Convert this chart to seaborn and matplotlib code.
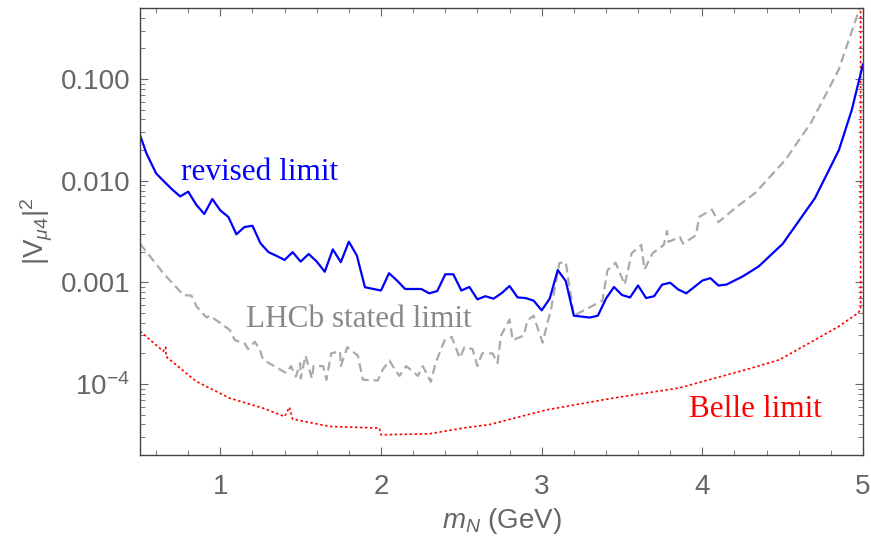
import numpy as np
import pandas as pd
import matplotlib
matplotlib.use("Agg")
import matplotlib.pyplot as plt
import matplotlib.ticker as mticker
import seaborn as sns

# ---------------- data ----------------
x_revised = [0.5, 0.54, 0.6, 0.65, 0.7, 0.75, 0.8, 0.85, 0.9, 0.95, 1.0, 1.05, 1.1, 1.15,
             1.2, 1.25, 1.3, 1.35, 1.4, 1.45, 1.5, 1.55, 1.6, 1.65, 1.7, 1.75, 1.8, 1.85,
             1.9, 2.0, 2.05, 2.1, 2.15, 2.25, 2.3, 2.35, 2.4, 2.45, 2.5, 2.55, 2.6, 2.65,
             2.7, 2.75, 2.8, 2.85, 2.9, 2.95, 3.0, 3.05, 3.1, 3.15, 3.2, 3.3, 3.35, 3.4,
             3.45, 3.5, 3.55, 3.6, 3.65, 3.7, 3.75, 3.8, 3.85, 3.9, 3.95, 4.0, 4.05, 4.1,
             4.15, 4.25, 4.35, 4.5, 4.7, 4.85, 4.93, 5.0]
y_revised = [0.0281, 0.0186, 0.0118, 0.0098, 0.0082, 0.0070, 0.0078, 0.0058, 0.0047, 0.0066,
             0.0051, 0.0044, 0.00297, 0.0035, 0.0036, 0.00242, 0.00198, 0.00182, 0.00166,
             0.00198, 0.0016, 0.0019, 0.0016, 0.00127, 0.00211, 0.00158, 0.00251, 0.00183,
             0.000895, 0.00083, 0.00123, 0.00104, 0.00086, 0.00086, 0.00078, 0.00082, 0.0012,
             0.0012, 0.00083, 0.0009, 0.00068, 0.00073, 0.00069, 0.00078, 0.00092, 0.00071,
             0.0007, 0.00066, 0.00053, 0.00069, 0.00132, 0.00103, 0.00047, 0.00045, 0.00047,
             0.00069, 0.0009, 0.00075, 0.00071, 0.00093, 0.0007, 0.00073, 0.00095, 0.00099,
             0.00085, 0.00078, 0.0009, 0.00104, 0.0011, 0.00093, 0.00095, 0.00114, 0.00143,
             0.00239, 0.0067, 0.020, 0.0496, 0.14]

x_lhcb = [0.5, 0.645, 0.77, 0.82, 0.852, 0.914, 0.935, 1.059, 1.09, 1.152, 1.173, 1.214,
          1.245, 1.266, 1.41, 1.44, 1.47, 1.497, 1.50, 1.53, 1.57, 1.58, 1.64, 1.66, 1.69,
          1.745, 1.75, 1.79, 1.856, 1.887, 1.98, 2.01, 2.053, 2.084, 2.115, 2.157, 2.23,
          2.26, 2.31, 2.34, 2.396, 2.44, 2.49, 2.52, 2.57, 2.60, 2.63, 2.694, 2.725, 2.747,
          2.80, 2.82, 2.89, 2.91, 2.95, 2.976, 3.006, 3.036, 3.058, 3.11, 3.15, 3.20, 3.378,
          3.41, 3.46, 3.517, 3.56, 3.62, 3.64, 3.69, 3.76, 3.78, 3.79, 3.86, 3.88, 3.96,
          3.98, 4.06, 4.10, 4.206, 4.33, 4.517, 4.68, 4.848, 4.98]
y_lhcb = [0.0024, 0.00123, 0.00075, 0.00074, 0.00058, 0.00045, 0.00047, 0.00034, 0.00027,
          0.00025, 0.00022, 0.00026, 0.00022, 0.000173, 0.000128, 0.00015, 0.000118, 0.00016,
          0.000113, 0.00019, 0.000113, 0.00015, 0.00015, 0.00011, 0.0002, 0.00021, 0.00015,
          0.00023, 0.00019, 0.00011, 0.000108, 0.000138, 0.00017, 0.00014, 0.00012, 0.00015,
          0.00012, 0.00015, 0.000105, 0.000161, 0.00027, 0.00029, 0.00018, 0.00023, 0.00022,
          0.00015, 0.0002, 0.0002, 0.000161, 0.0003, 0.00043, 0.00027, 0.0003, 0.00042,
          0.00047, 0.00035, 0.000255, 0.0004, 0.00054, 0.00155, 0.00158, 0.00047, 0.00066,
          0.00132, 0.00156, 0.00095, 0.00193, 0.00233, 0.00134, 0.00193, 0.00233, 0.0032,
          0.0025, 0.0028, 0.0024, 0.0029, 0.0044, 0.0052, 0.0039, 0.0054, 0.0076, 0.016,
          0.038, 0.123, 0.5]

x_belle = [0.5, 0.645, 0.66, 0.662, 0.85, 1.06, 1.266, 1.40, 1.43, 1.45, 1.68, 1.99, 2.0,
           2.30, 2.51, 2.674, 3.03, 3.44, 3.854, 4.27, 4.48, 4.68, 4.848, 4.97, 4.985, 4.985]
y_belle = [0.00033, 0.00021, 0.00023, 0.000186, 0.000106, 0.0000724, 0.0000578, 0.0000478,
           0.000059, 0.0000451, 0.0000382, 0.0000368, 0.0000316, 0.0000323, 0.0000368,
           0.0000398, 0.0000556, 0.0000724, 0.0000912, 0.000138, 0.000173, 0.00026,
           0.000367, 0.0005, 0.00055, 1.0]

x_ticks = [1, 2, 3, 4, 5]
y_ticks = [1e-4, 1e-3, 1e-2, 1e-1]
y_tick_labels = [r"$10^{-4}$", "0.001", "0.010", "0.100"]

# ---------------- style ----------------
sns.set_style("ticks")
plt.rcParams["font.family"] = ["Liberation Sans", "DejaVu Sans"]
plt.rcParams["mathtext.fontset"] = "custom"
plt.rcParams["mathtext.rm"] = "Liberation Sans"
plt.rcParams["mathtext.it"] = "Liberation Sans:italic"
plt.rcParams["mathtext.bf"] = "Liberation Sans:bold"

frame_col = "#444444"
tick_col = "#666666"
label_col = "#666666"

fig = plt.figure(figsize=(8.71, 5.38), dpi=100)
ax = fig.add_axes([140 / 871, 1 - 455 / 538, (863 - 140) / 871, (455 - 8) / 538])

df_rev = pd.DataFrame({"x": x_revised, "y": y_revised})
df_lhcb = pd.DataFrame({"x": x_lhcb, "y": y_lhcb})
df_belle = pd.DataFrame({"x": x_belle, "y": y_belle})

sns.lineplot(data=df_lhcb, x="x", y="y", ax=ax, sort=False, estimator=None,
             color="#aaaaaa", linewidth=1.6, linestyle=(0, (4, 2.2)))
sns.lineplot(data=df_belle, x="x", y="y", ax=ax, sort=False, estimator=None,
             color="#ff0000", linewidth=1.2, linestyle=(0, (1.5, 1.5)))
sns.lineplot(data=df_rev, x="x", y="y", ax=ax, sort=False, estimator=None,
             color="#0000ff", linewidth=1.6)

ax.set_yscale("log")
ax.set_xlim(0.5, 5.0)
ax.set_ylim(2e-5, 0.5)

ax.set_xticks(x_ticks)
ax.xaxis.set_minor_locator(mticker.MultipleLocator(0.2))
ax.set_yticks(y_ticks)
ax.set_yticklabels(y_tick_labels)
ax.yaxis.set_minor_locator(mticker.LogLocator(base=10, subs=np.arange(2, 10)))
ax.yaxis.set_minor_formatter(mticker.NullFormatter())

for s in ax.spines.values():
    s.set_color(frame_col)
    s.set_linewidth(1.0)
ax.tick_params(which="both", direction="in", top=True, right=True, color=tick_col,
               labelcolor=label_col)
ax.tick_params(which="major", length=6, width=0.8, labelsize=20)
ax.tick_params(which="minor", length=3.5, width=0.6)
ax.tick_params(axis="x", which="major", pad=14)
ax.tick_params(axis="y", which="major", pad=7)

ax.set_xlabel(r"$m_N$ (GeV)", fontsize=20, color=label_col, labelpad=4)
ax.set_ylabel(r"$|\mathrm{V}_{\mu 4}|^2$", fontsize=20, color=label_col, labelpad=4)

ax.text(0.755, 0.0102, "revised limit", family="Liberation Serif", fontsize=22.5,
        color="#0000ff", va="baseline", ha="left")
ax.text(1.16, 0.00036, "LHCb stated limit", family="Liberation Serif", fontsize=22.5,
        color="#888888", va="baseline", ha="left")
ax.text(3.92, 0.0000475, "Belle limit", family="Liberation Serif", fontsize=22.5,
        color="#ff0000", va="baseline", ha="left")

fig.savefig("out.png", dpi=100)
